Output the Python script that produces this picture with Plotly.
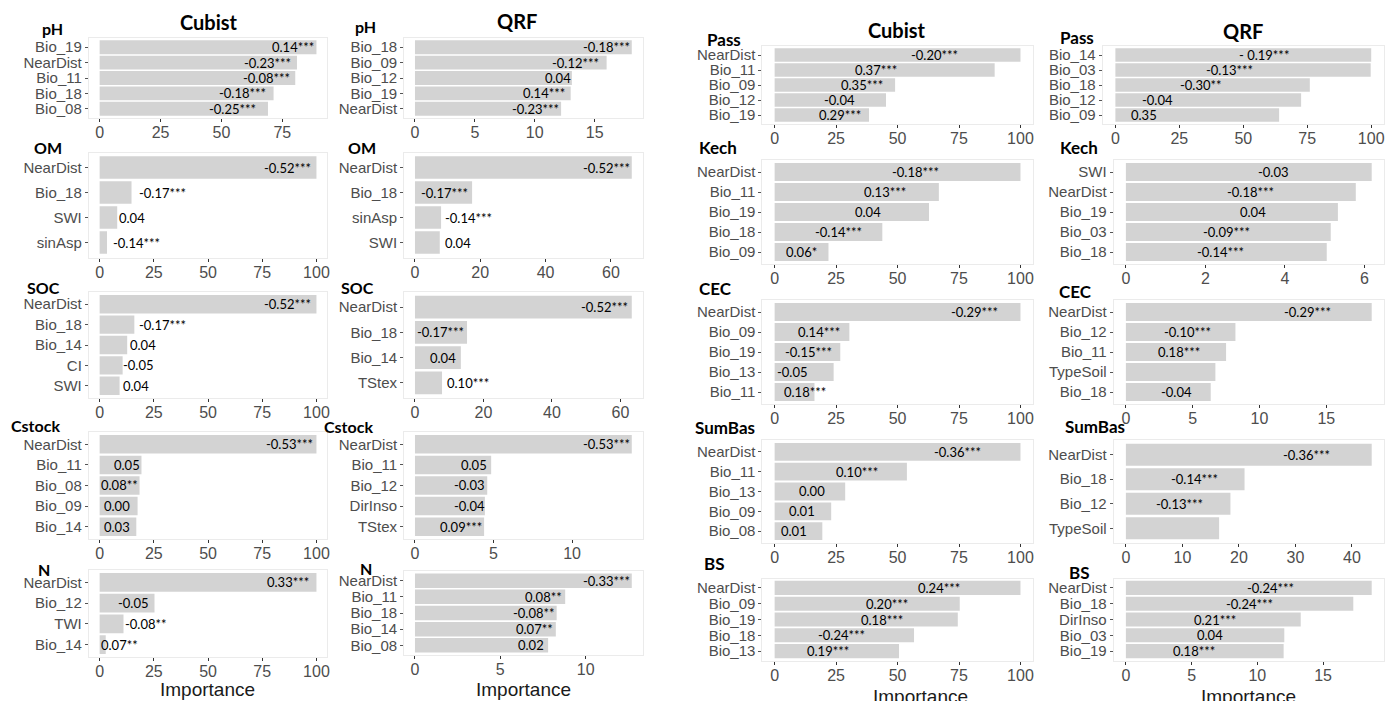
import plotly.graph_objects as go

W, H = 1387, 701

# ---------------- data (importance values) ----------------
# Left block, Cubist
ph_cub_var = ["Bio_19", "NearDist", "Bio_11", "Bio_18", "Bio_08"]
ph_cub_imp = [89, 81, 80.3, 71.4, 69.1]
ph_cub_lab = ["0.14***", "-0.23***", "-0.08***", "-0.18***", "-0.25***"]

om_cub_var = ["NearDist", "Bio_18", "SWI", "sinAsp"]
om_cub_imp = [100, 14.7, 8.1, 3.4]
om_cub_lab = ["-0.52***", "-0.17***", "0.04", "-0.14***"]

soc_cub_var = ["NearDist", "Bio_18", "Bio_14", "CI", "SWI"]
soc_cub_imp = [100, 16, 12.7, 10.6, 9.2]
soc_cub_lab = ["-0.52***", "-0.17***", "0.04", "-0.05", "0.04"]

cst_cub_var = ["NearDist", "Bio_11", "Bio_08", "Bio_09", "Bio_14"]
cst_cub_imp = [100, 19.3, 18.4, 17.5, 16.9]
cst_cub_lab = ["-0.53***", "0.05", "0.08**", "0.00", "0.03"]

n_cub_var = ["NearDist", "Bio_12", "TWI", "Bio_14"]
n_cub_imp = [100, 25.3, 11, 2.8]
n_cub_lab = ["0.33***", "-0.05", "-0.08**", "0.07**"]

# Left block, QRF
ph_qrf_var = ["Bio_18", "Bio_09", "Bio_12", "Bio_19", "NearDist"]
ph_qrf_imp = [18.1, 16.0, 13.1, 13.0, 12.2]
ph_qrf_lab = ["-0.18***", "-0.12***", "0.04", "0.14***", "-0.23***"]

om_qrf_var = ["NearDist", "Bio_18", "sinAsp", "SWI"]
om_qrf_imp = [66.4, 17.5, 8.0, 7.6]
om_qrf_lab = ["-0.52***", "-0.17***", "-0.14***", "0.04"]

soc_qrf_var = ["NearDist", "Bio_18", "Bio_14", "TStex"]
soc_qrf_imp = [63.3, 15.2, 13.4, 7.9]
soc_qrf_lab = ["-0.52***", "-0.17***", "0.04", "0.10***"]

cst_qrf_var = ["NearDist", "Bio_11", "Bio_12", "DirInso", "TStex"]
cst_qrf_imp = [13.8, 4.85, 4.6, 4.45, 4.4]
cst_qrf_lab = ["-0.53***", "0.05", "-0.03", "-0.04", "0.09***"]

n_qrf_var = ["NearDist", "Bio_11", "Bio_18", "Bio_14", "Bio_08"]
n_qrf_imp = [12.7, 8.8, 8.3, 8.25, 7.8]
n_qrf_lab = ["-0.33***", "0.08**", "-0.08**", "0.07**", "0.02"]

# Right block, Cubist
pass_cub_var = ["NearDist", "Bio_11", "Bio_09", "Bio_12", "Bio_19"]
pass_cub_imp = [100, 89.5, 49, 45.3, 38.4]
pass_cub_lab = ["-0.20***", "0.37***", "0.35***", "-0.04", "0.29***"]

kech_cub_var = ["NearDist", "Bio_11", "Bio_19", "Bio_18", "Bio_09"]
kech_cub_imp = [100, 66.8, 62.8, 43.8, 21.9]
kech_cub_lab = ["-0.18***", "0.13***", "0.04", "-0.14***", "0.06*"]

cec_cub_var = ["NearDist", "Bio_09", "Bio_19", "Bio_13", "Bio_11"]
cec_cub_imp = [100, 30.4, 26.7, 24, 16.2]
cec_cub_lab = ["-0.29***", "0.14***", "-0.15***", "-0.05", "0.18***"]

sb_cub_var = ["NearDist", "Bio_11", "Bio_13", "Bio_09", "Bio_08"]
sb_cub_imp = [100, 53.8, 28.7, 23, 19.4]
sb_cub_lab = ["-0.36***", "0.10***", "0.00", "0.01", "0.01"]

bs_cub_var = ["NearDist", "Bio_09", "Bio_19", "Bio_18", "Bio_13"]
bs_cub_imp = [100, 75.3, 74.5, 56.7, 50.6]
bs_cub_lab = ["0.24***", "0.20***", "0.18***", "-0.24***", "0.19***"]

# Right block, QRF
pass_qrf_var = ["Bio_14", "Bio_03", "Bio_18", "Bio_12", "Bio_09"]
pass_qrf_imp = [100, 99.8, 76, 72.6, 64]
pass_qrf_lab = ["- 0.19***", "-0.13***", "-0.30**", "-0.04", "0.35"]

kech_qrf_var = ["SWI", "NearDist", "Bio_19", "Bio_03", "Bio_18"]
kech_qrf_imp = [6.18, 5.78, 5.33, 5.15, 5.05]
kech_qrf_lab = ["-0.03", "-0.18***", "0.04", "-0.09***", "-0.14***"]

cec_qrf_var = ["NearDist", "Bio_12", "Bio_11", "TypeSoil", "Bio_18"]
cec_qrf_imp = [18.4, 8.2, 7.5, 6.7, 6.35]
cec_qrf_lab = ["-0.29***", "-0.10***", "0.18***", "", "-0.04"]

sb_qrf_var = ["NearDist", "Bio_18", "Bio_12", "TypeSoil"]
sb_qrf_imp = [43.5, 21, 18.5, 16.5]
sb_qrf_lab = ["-0.36***", "-0.14***", "-0.13***", ""]

bs_qrf_var = ["NearDist", "Bio_18", "DirInso", "Bio_03", "Bio_19"]
bs_qrf_imp = [18.7, 17.3, 13.3, 12.05, 12.0]
bs_qrf_lab = ["-0.24***", "-0.24***", "0.21***", "0.04", "0.18***"]

DATA = {
    "ph_cub": (ph_cub_var, ph_cub_imp, ph_cub_lab),
    "om_cub": (om_cub_var, om_cub_imp, om_cub_lab),
    "soc_cub": (soc_cub_var, soc_cub_imp, soc_cub_lab),
    "cst_cub": (cst_cub_var, cst_cub_imp, cst_cub_lab),
    "n_cub": (n_cub_var, n_cub_imp, n_cub_lab),
    "ph_qrf": (ph_qrf_var, ph_qrf_imp, ph_qrf_lab),
    "om_qrf": (om_qrf_var, om_qrf_imp, om_qrf_lab),
    "soc_qrf": (soc_qrf_var, soc_qrf_imp, soc_qrf_lab),
    "cst_qrf": (cst_qrf_var, cst_qrf_imp, cst_qrf_lab),
    "n_qrf": (n_qrf_var, n_qrf_imp, n_qrf_lab),
    "pass_cub": (pass_cub_var, pass_cub_imp, pass_cub_lab),
    "kech_cub": (kech_cub_var, kech_cub_imp, kech_cub_lab),
    "cec_cub": (cec_cub_var, cec_cub_imp, cec_cub_lab),
    "sb_cub": (sb_cub_var, sb_cub_imp, sb_cub_lab),
    "bs_cub": (bs_cub_var, bs_cub_imp, bs_cub_lab),
    "pass_qrf": (pass_qrf_var, pass_qrf_imp, pass_qrf_lab),
    "kech_qrf": (kech_qrf_var, kech_qrf_imp, kech_qrf_lab),
    "cec_qrf": (cec_qrf_var, cec_qrf_imp, cec_qrf_lab),
    "sb_qrf": (sb_qrf_var, sb_qrf_imp, sb_qrf_lab),
    "bs_qrf": (bs_qrf_var, bs_qrf_imp, bs_qrf_lab),
}

# ---------------- layout (pixel placements of the composite) ----------------
# label text centres along the importance axis (text placement, in axis units)
LABEL_X = {
    "ph_cub": [79.5, 69, 68.6, 58.5, 54.5],
    "om_cub": [86.7, 29, 14.8, 17],
    "soc_cub": [86.7, 29, 19.9, 18, 16.6],
    "cst_cub": [87.8, 12.5, 9.2, 8, 8],
    "n_cub": [87, 15.7, 21.5, 9.2],
    "ph_qrf": [16.0, 13.4, 11.9, 10.8, 10.1],
    "om_qrf": [58.7, 8.9, 16.5, 13.2],
    "soc_qrf": [55.4, 7.6, 8.2, 15.5],
    "cst_qrf": [12.2, 3.76, 3.5, 3.5, 2.9],
    "n_qrf": [11.2, 7.55, 7.0, 7.0, 6.8],
    "pass_cub": [65, 41.3, 35.6, 26.3, 26.7],
    "kech_cub": [57.5, 45, 38, 25.9, 10.9],
    "cec_cub": [81.4, 18.2, 13.8, 7.3, 12.2],
    "sb_cub": [74.5, 33.6, 15, 11.3, 7.8],
    "bs_cub": [66.7, 45.7, 43.7, 27.2, 21.9],
    "pass_qrf": [58, 44.5, 33.6, 16.5, 11],
    "kech_qrf": [3.7, 3.13, 3.2, 2.52, 2.38],
    "cec_qrf": [13.6, 4.6, 3.95, 0, 3.8],
    "sb_qrf": [32, 12.1, 9.5, 0],
    "bs_qrf": [11, 9.4, 6.8, 6.4, 5.2],
}

# key, x-domain px, y-domain px (top, bottom), dtick, row label (text, x, y, size)
PANELS = [
    ("ph_cub", (89, 328), (38, 118), 25, ("pH", 53, 28, 16)),
    ("om_cub", (89, 328), (152.5, 257.5), 25, ("OM", 48, 147, 16)),
    ("soc_cub", (89, 328), (292, 398), 25, ("SOC", 44, 287, 16)),
    ("cst_cub", (89, 328), (432, 539), 25, ("Cstock", 36, 425, 16)),
    ("n_cub", (89, 328), (570, 657), 25, ("N", 44, 569, 16)),
    ("ph_qrf", (405, 644), (38, 118), 5, ("pH", 366, 27, 16)),
    ("om_qrf", (405, 644), (152.5, 257.5), 20, ("OM", 363, 147, 16)),
    ("soc_qrf", (405, 644), (292, 398), 20, ("SOC", 358, 287, 16)),
    ("cst_qrf", (405, 644), (432, 539), 5, ("Cstock", 349, 426, 16)),
    ("n_qrf", (405, 644), (571, 655), 5, ("N", 367, 568, 16)),
    ("pass_cub", (764, 1035), (46, 124), 25, ("Pass", 726, 39, 17)),
    ("kech_cub", (764, 1035), (160, 264), 25, ("Kech", 720, 147, 17)),
    ("cec_cub", (764, 1035), (300, 404), 25, ("CEC", 717, 289, 17)),
    ("sb_cub", (764, 1035), (440, 543), 25, ("SumBas", 727, 428, 17)),
    ("bs_cub", (764, 1035), (578.5, 660.5), 25, ("BS", 716, 563, 17)),
    ("pass_qrf", (1105, 1387), (46, 124), 25, ("Pass", 1079, 38, 17)),
    ("kech_qrf", (1116, 1387), (160, 264), 2, ("Kech", 1081, 147, 17)),
    ("cec_qrf", (1116, 1387), (300, 404), 5, ("CEC", 1078, 291, 17)),
    ("sb_qrf", (1116, 1387), (440, 543), 10, ("SumBas", 1097, 426, 17)),
    ("bs_qrf", (1116, 1387), (578.5, 660.5), 5, ("BS", 1082, 572, 17)),
]

TITLES = [("Cubist", 209, 22), ("QRF", 518, 21), ("Cubist", 899, 30), ("QRF", 1246, 31)]
XTITLES = [(208, 689), (525, 689), (922, 696), (1251, 696)]

BAR_COLOR = "#d3d3d3"
FRAME_COLOR = "#ebebeb"
TICK_FONT = dict(family="Liberation Sans, Arial, sans-serif", size=15, color="#4d4d4d")
LABEL_FONT = dict(family="Lato, Calibri, sans-serif", size=13, color="#000000")
BOLD_FONT = "Lato, Calibri, sans-serif"

fig = go.Figure()
annotations = []
layout_axes = {}

for i, (key, xpx, ypx, dtick, rowlab) in enumerate(PANELS, start=1):
    vars_, imp, lab = DATA[key]
    n = len(vars_)
    xname = "x" if i == 1 else f"x{i}"
    yname = "y" if i == 1 else f"y{i}"
    xl = "xaxis" if i == 1 else f"xaxis{i}"
    yl = "yaxis" if i == 1 else f"yaxis{i}"
    m = max(imp)
    fig.add_trace(go.Bar(
        x=imp, y=vars_, orientation="h", xaxis=xname, yaxis=yname,
        marker=dict(color=BAR_COLOR, line=dict(width=0)),
        showlegend=False, hoverinfo="skip",
    ))
    layout_axes[xl] = dict(
        domain=[xpx[0] / W, xpx[1] / W], anchor=yname,
        range=[-0.05 * m, 1.05 * m], tick0=0, dtick=dtick,
        ticks="outside", ticklen=3, tickwidth=1, tickcolor="#333333",
        ticklabelstandoff=-3,
        showline=True, mirror=True, linecolor=FRAME_COLOR, linewidth=1,
        showgrid=False, zeroline=False, tickfont=dict(TICK_FONT, size=16),
        fixedrange=True,
    )
    layout_axes[yl] = dict(
        domain=[1 - ypx[1] / H, 1 - ypx[0] / H], anchor=xname,
        type="category", categoryorder="array", categoryarray=vars_,
        range=[n - 0.4, -0.6],
        tickmode="array", tickvals=vars_, ticktext=vars_,
        ticks="outside", ticklen=3, tickwidth=1, tickcolor="#555555",
        showline=True, mirror=True, linecolor=FRAME_COLOR, linewidth=1,
        showgrid=False, zeroline=False, tickfont=TICK_FONT,
        fixedrange=True,
    )
    for j, (v, t) in enumerate(zip(vars_, lab)):
        if t:
            annotations.append(dict(
                x=LABEL_X[key][j], y=v, xref=xname, yref=yname,
                text=t, showarrow=False, xanchor="center", yanchor="middle",
                font=LABEL_FONT,
            ))
    txt, rx, ry, rs = rowlab
    annotations.append(dict(
        x=rx / W, y=1 - ry / H, xref="paper", yref="paper",
        text=f"<b>{txt}</b>", showarrow=False, xanchor="center", yanchor="middle",
        font=dict(family=BOLD_FONT, size=rs, color="#000000"),
    ))

for txt, tx, ty in TITLES:
    annotations.append(dict(
        x=tx / W, y=1 - ty / H, xref="paper", yref="paper",
        text=f"<b>{txt}</b>", showarrow=False, xanchor="center", yanchor="middle",
        font=dict(family=BOLD_FONT, size=20, color="#000000"),
    ))

for tx, ty in XTITLES:
    annotations.append(dict(
        x=tx / W, y=1 - ty / H, xref="paper", yref="paper",
        text="Importance", showarrow=False, xanchor="center", yanchor="middle",
        font=dict(family="Liberation Sans, Arial, sans-serif", size=19, color="#1a1a1a"),
    ))

fig.update_layout(
    width=W, height=H, autosize=False,
    margin=dict(l=0, r=0, t=0, b=0),
    paper_bgcolor="white", plot_bgcolor="white",
    bargap=0.1, annotations=annotations,
    **layout_axes,
)

fig.write_html(
    "out.html",
    config={"displayModeBar": False},
    post_script="document.body.style.margin='0';document.body.style.overflow='hidden';",
)
